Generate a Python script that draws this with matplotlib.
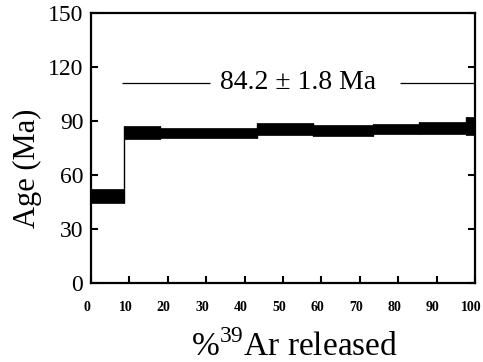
import matplotlib
matplotlib.use("Agg")
import matplotlib.pyplot as plt
import matplotlib.transforms as mtransforms

# Step heating data (cumulative % 39Ar released, apparent age, 1-sigma half-width)
step_start = [0.0, 8.5, 18.0, 43.2, 57.8, 73.4, 85.3, 97.6]
step_end = [8.5, 18.0, 43.2, 57.8, 73.4, 85.3, 97.6, 100.0]
age = [48.3, 83.6, 83.4, 85.5, 84.8, 85.5, 86.1, 87.3]
err = [4.0, 3.8, 2.9, 3.3, 3.0, 2.9, 3.5, 5.1]

plateau_age = 111.3
plateau_text = "84.2 ± 1.8 Ma"
xticks = [0, 10, 20, 30, 40, 50, 60, 70, 80, 90, 100]
yticks = [0, 30, 60, 90, 120, 150]

plt.rcParams['font.family'] = ['Liberation Serif', 'DejaVu Serif']
plt.rcParams['mathtext.fontset'] = 'custom'
plt.rcParams['mathtext.rm'] = 'Liberation Serif'

fig = plt.figure(figsize=(4.83, 3.62), dpi=100)
ax = fig.add_axes([0.1884, 0.2182, 0.795, 0.746])

widths = [e - s for s, e in zip(step_start, step_end)]
lows = [a - d for a, d in zip(age, err)]
heights = [2 * d for d in err]
ax.bar(step_start, heights, width=widths, bottom=lows, align='edge',
       color='black', edgecolor='black', linewidth=0.5)
# connecting verticals between steps
for i in range(len(age) - 1):
    lo = min(lows[i], lows[i + 1])
    hi = max(lows[i] + heights[i], lows[i + 1] + heights[i + 1])
    ax.vlines(step_end[i], lo, hi, color='black', linewidth=1)

# plateau line with label
ax.hlines(plateau_age, 8.0, 31.0, color='black', linewidth=0.9)
ax.hlines(plateau_age, 80.5, 100.0, color='black', linewidth=0.9)
ax.text(53.9, plateau_age, plateau_text, ha='center', va='center', fontsize=20)

ax.set_xlim(0, 100)
ax.set_ylim(0, 150)
ax.set_xticks(xticks)
ax.set_yticks(yticks)
ax.set_xticklabels([str(t) for t in xticks], fontsize=10, fontweight='bold')
ax.set_yticklabels([str(t) for t in yticks], fontsize=17)
ax.tick_params(axis='both', direction='in', length=5, width=1.5, right=True, top=False)
ax.tick_params(axis='x', pad=13)
ax.tick_params(axis='y', pad=5.5)
for sp in ax.spines.values():
    sp.set_linewidth(1.6)

shift = mtransforms.ScaledTranslation(-4 / 100, 0, fig.dpi_scale_trans)
for lbl in ax.get_xticklabels():
    lbl.set_transform(lbl.get_transform() + shift)

ax.set_ylabel("Age (Ma)", fontsize=22)
ax.yaxis.set_label_coords(-0.128, 0.426)
ax.set_xlabel("%$^{39}$Ar released", fontsize=24)
ax.xaxis.set_label_coords(0.53, -0.174)

fig.savefig("out.png", dpi=100)
